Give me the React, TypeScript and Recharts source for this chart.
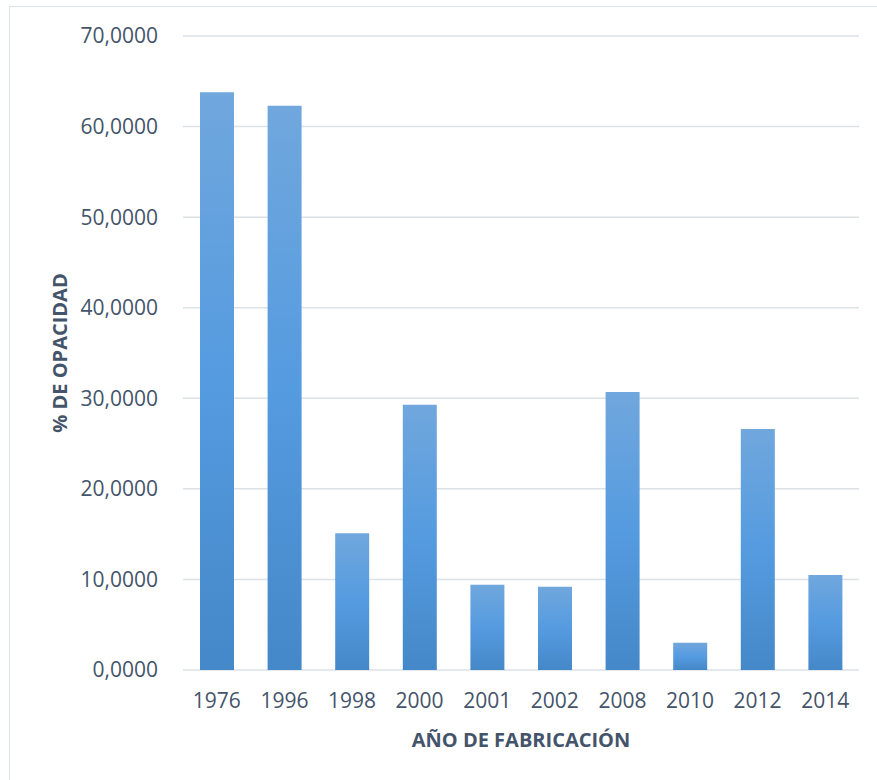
import { BarChart, Bar, XAxis, YAxis, CartesianGrid, Label } from 'recharts';

// Año de fabricación vs % de opacidad
const years = ['1976', '1996', '1998', '2000', '2001', '2002', '2008', '2010', '2012', '2014'];
const opacity = [63.8, 62.3, 15.1, 29.3, 9.4, 9.2, 30.7, 3.0, 26.6, 10.5];
const yTicks = [0, 10, 20, 30, 40, 50, 60, 70];

const chartData = years.map((year, i) => ({ year, value: opacity[i] }));

const textColor = '#44546a';
const font = '"Open Sans", sans-serif';

const formatTick = (v: number) => v.toFixed(4).replace('.', ',');

export default function App() {
  return (
    <div style={{ position: 'absolute', left: 0, top: 0, width: 877, height: 780, overflow: 'hidden', background: '#fff' }}>
      {/* outer chart frame, only top and left edges are visible */}
      <div
        style={{
          position: 'absolute',
          left: 9,
          top: 6,
          width: 900,
          height: 800,
          border: '1.5px solid #dde3ea',
          boxSizing: 'border-box',
        }}
      />
      <div style={{ position: 'absolute', left: 0, top: 0 }}>
        <BarChart
          width={877}
          height={780}
          data={chartData}
          margin={{ top: 36, right: 18, left: 38, bottom: 30 }}
          barSize={34}
        >
          <defs>
            <linearGradient id="barFill" x1="0" y1="0" x2="0" y2="1">
              <stop offset="0%" stopColor="#70a7dd" />
              <stop offset="50%" stopColor="#559be0" />
              <stop offset="100%" stopColor="#4588c8" />
            </linearGradient>
          </defs>
          <CartesianGrid vertical={false} stroke="#dce1e8" strokeWidth={1.5} />
          <XAxis
            dataKey="year"
            height={80}
            axisLine={false}
            tickLine={false}
            tickSize={0}
            tickMargin={23}
            tick={{ fill: textColor, fontSize: 21, fontFamily: font }}
          >
            <Label
              value="AÑO DE FABRICACIÓN"
              position="insideBottom"
              offset={3}
              style={{ fill: textColor, fontSize: 20, fontWeight: 700, fontFamily: font }}
            />
          </XAxis>
          <YAxis
            width={145}
            domain={[0, 70]}
            ticks={yTicks}
            tickFormatter={formatTick}
            axisLine={false}
            tickLine={false}
            tickSize={0}
            tickMargin={25}
            tick={{ fill: textColor, fontSize: 21, fontFamily: font }}
          >
            <Label
              value="% DE OPACIDAD"
              angle={-90}
              position="insideLeft"
              offset={22}
              style={{ textAnchor: 'middle', fill: textColor, fontSize: 20, fontWeight: 700, fontFamily: font }}
            />
          </YAxis>
          <Bar dataKey="value" fill="url(#barFill)" isAnimationActive={false} />
        </BarChart>
      </div>
    </div>
  );
}
